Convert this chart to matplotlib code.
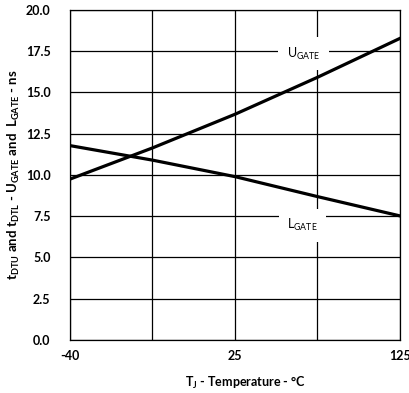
import matplotlib
matplotlib.use("Agg")
import matplotlib.pyplot as plt

plt.rcParams['font.family'] = ['Lato', 'DejaVu Sans']
plt.rcParams['mathtext.fontset'] = 'custom'
plt.rcParams['mathtext.rm'] = 'Lato'
plt.rcParams['mathtext.bf'] = 'Lato:bold'

# categories along x (equally spaced in the chart)
temps = ['-40', '', '25', '', '125']
ugate = [9.75, 11.64, 13.68, 15.92, 18.28]
lgate = [11.78, 10.90, 9.90, 8.69, 7.52]
yticks = [0.0, 2.5, 5.0, 7.5, 10.0, 12.5, 15.0, 17.5, 20.0]

fig = plt.figure(figsize=(4.10, 3.93), dpi=100)
ax = fig.add_axes([0.1707, 0.1349, 0.8049, 0.8397])

pos = list(range(len(temps)))
ax.plot(pos, ugate, color='black', lw=2.3, zorder=3)
ax.plot(pos, lgate, color='black', lw=2.3, zorder=3)

ax.set_xlim(0, 4)
ax.set_ylim(0, 20)
ax.set_xticks(pos)
ax.set_xticklabels(temps, fontweight='bold', fontsize=9)
ax.set_yticks(yticks)
ax.set_yticklabels(['%.1f' % v for v in yticks], fontweight='bold', fontsize=9)
ax.tick_params(length=0, pad=14)
ax.tick_params(axis='x', pad=7)
ax.grid(True, color='black', lw=0.9)
ax.set_axisbelow(True)
for s in ax.spines.values():
    s.set_linewidth(0.9)

ax.text(2.83, 17.35, r'U$_\mathregular{GATE}$', ha='center', va='center', fontsize=9,
        bbox=dict(facecolor='white', edgecolor='none', pad=6), zorder=2)
ax.text(2.82, 6.95, r'L$_\mathregular{GATE}$', ha='center', va='center', fontsize=9,
        bbox=dict(facecolor='white', edgecolor='none', pad=6), zorder=2)

ax.set_xlabel(r'T$_\mathbf{J}$ - Temperature - °C', fontweight='bold', fontsize=9, va='center')
ax.set_ylabel(r't$_\mathbf{DTU}$ and t$_\mathbf{DTL}$ - U$_\mathbf{GATE}$ and  L$_\mathbf{GATE}$ - ns',
              fontweight='bold', fontsize=9.5, va='center')
ax.xaxis.set_label_coords(0.533, -0.13)
ax.yaxis.set_label_coords(-0.17, 0.5)

fig.savefig('out.png', dpi=100)
